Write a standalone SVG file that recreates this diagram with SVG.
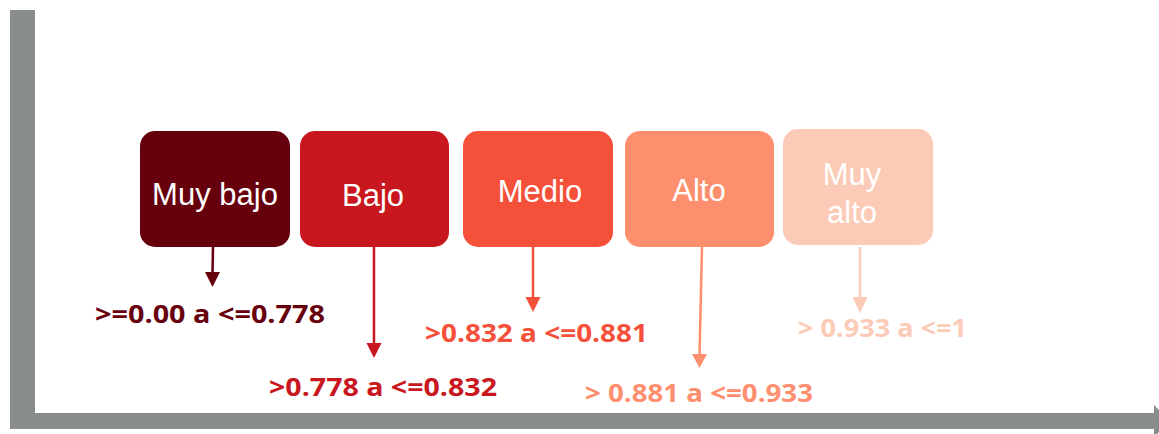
<svg xmlns="http://www.w3.org/2000/svg" width="1159" height="434" viewBox="0 0 1159 434">
<style>
.box text{font-family:"Liberation Sans",Arial,sans-serif;font-size:31px;fill:#ffffff;text-anchor:middle}
.lbl{font-family:"Open Sans","DejaVu Sans",sans-serif;font-weight:bold;font-size:25px}
.axis{fill:#898d8e}
</style>
<rect width="1159" height="434" fill="#ffffff"/>
<g id="axes">
<rect class="axis" x="10" y="10" width="25" height="419"/>
<rect class="axis" x="10" y="413" width="1145" height="16"/>
<polygon class="axis" points="1154,405 1170,421 1154,437"/>
</g>
<g id="connectors" stroke-width="2.5">
<g stroke="#67000d" fill="#67000d"><line x1="213" y1="247" x2="212.5" y2="273"/><polygon points="205,272 220,272 212.5,287" stroke="none"/></g>
<g stroke="#c8171e" fill="#c8171e"><line x1="374" y1="247" x2="374" y2="344"/><polygon points="366.5,343 381.5,343 374,358" stroke="none"/></g>
<g stroke="#f5503a" fill="#f5503a"><line x1="533" y1="247" x2="533" y2="298"/><polygon points="525.5,297 540.5,297 533,312" stroke="none"/></g>
<g stroke="#fd8e6e" fill="#fd8e6e"><line x1="702" y1="247" x2="699.5" y2="355"/><polygon points="692,354 707,354 699.5,368" stroke="none"/></g>
<g stroke="#fccbb7" fill="#fccbb7"><line x1="860" y1="247" x2="860" y2="298"/><polygon points="852.5,297 867.5,297 860,313" stroke="none"/></g>
</g>
<g id="muy-bajo" class="box"><rect x="140" y="131" width="150" height="116" rx="15" fill="#67000d"/><text x="215" y="205">Muy bajo</text></g>
<g id="bajo" class="box"><rect x="300" y="131" width="149" height="116" rx="15" fill="#c8171e"/><text x="373" y="206">Bajo</text></g>
<g id="medio" class="box"><rect x="463" y="131" width="150" height="116" rx="15" fill="#f5503a"/><text x="540" y="202">Medio</text></g>
<g id="alto" class="box"><rect x="625" y="131" width="149" height="116" rx="15" fill="#fd8e6e"/><text x="699" y="201">Alto</text></g>
<g id="muy-alto" class="box"><rect x="783" y="129" width="150" height="116" rx="15" fill="#fccbb7"/><text x="852" y="185">Muy</text><text x="852" y="223">alto</text></g>
<g id="labels">
<text class="lbl" x="95" y="323" textLength="230" lengthAdjust="spacingAndGlyphs" fill="#67000d">&gt;=0.00 a &lt;=0.778</text>
<text class="lbl" x="269" y="396" textLength="228" lengthAdjust="spacingAndGlyphs" fill="#c8171e">&gt;0.778 a &lt;=0.832</text>
<text class="lbl" x="425" y="342" textLength="223" lengthAdjust="spacingAndGlyphs" fill="#f5503a">&gt;0.832 a &lt;=0.881</text>
<text class="lbl" x="585" y="402" textLength="228" lengthAdjust="spacingAndGlyphs" fill="#fd8e6e">&gt; 0.881 a &lt;=0.933</text>
<text class="lbl" x="798" y="337" textLength="169" lengthAdjust="spacingAndGlyphs" fill="#fccbb7">&gt; 0.933 a &lt;=1</text>
</g>
</svg>
